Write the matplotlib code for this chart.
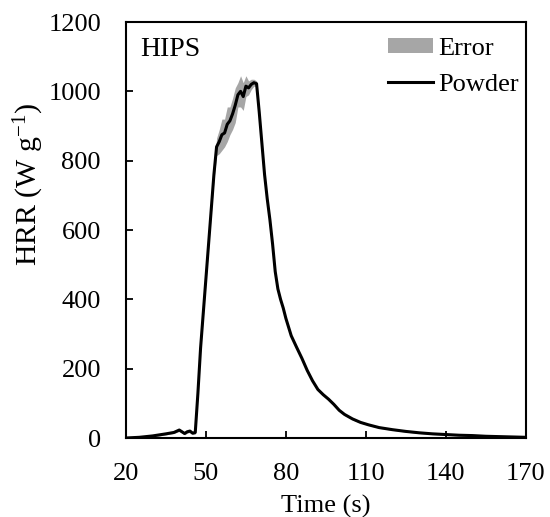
import matplotlib
matplotlib.use("Agg")
import matplotlib.pyplot as plt
import numpy as np
from matplotlib.patches import Patch
from matplotlib.lines import Line2D

plt.rcParams["font.family"] = ["Liberation Serif", "DejaVu Serif"]
plt.rcParams["mathtext.fontset"] = "custom"
plt.rcParams["mathtext.rm"] = "Liberation Serif"
plt.rcParams["mathtext.default"] = "regular"

# Heat release rate of HIPS powder (mean) and its error half-width
time_s = [20, 25, 30, 35, 38, 40, 41, 42, 43, 44, 45, 46, 47, 48, 49, 50, 51, 52, 53,
          54, 55, 56, 57, 58, 59, 60, 61, 62, 63, 64, 65, 66, 67, 68, 69, 70, 71, 72,
          73, 74, 75, 76, 77, 78, 79, 80, 82, 84, 86, 88, 90, 92, 94, 96, 98, 100,
          102, 105, 108, 111, 115, 120, 125, 130, 135, 140, 145, 150, 155, 160, 165, 170]
hrr_powder = [0, 2, 6, 12, 16, 23, 18, 13, 18, 20, 14, 16, 130, 260, 360, 460, 560, 660, 760,
              840, 855, 875, 880, 905, 915, 935, 960, 990, 1000, 985, 1015, 1010, 1020, 1025, 1022, 940, 850, 760,
              690, 630, 560, 480, 430, 400, 375, 345, 295, 262, 230, 195, 165, 140, 125, 112, 97, 80,
              68, 55, 45, 38, 30, 24, 19, 15, 12, 10, 8, 7, 5, 4, 3, 2]
hrr_error = [2, 2, 3, 3, 3, 4, 4, 4, 4, 4, 4, 5, 8, 10, 12, 12, 14, 15, 18,
             25, 35, 45, 40, 50, 40, 45, 50, 35, 45, 40, 30, 20, 15, 10, 8, 6, 6, 6,
             5, 5, 5, 5, 5, 5, 4, 4, 4, 4, 4, 4, 3, 3, 3, 3, 3, 3,
             3, 3, 2, 2, 2, 2, 2, 2, 2, 2, 2, 2, 2, 2, 2, 2]

x_ticks = [20, 50, 80, 110, 140, 170]
y_ticks = [0, 200, 400, 600, 800, 1000, 1200]

t = np.array(time_s)
y = np.array(hrr_powder)
e = np.array(hrr_error)

fig = plt.figure(figsize=(5.5, 5.17), dpi=100)
ax = fig.add_axes([0.229, 0.1528, 0.727, 0.8046])

ax.fill_between(t, y - e, y + e, color="#a6a6a6", linewidth=0, zorder=1)
ax.plot(t, y, color="black", linewidth=2.2, zorder=2)

ax.set_xlim(20, 170)
ax.set_ylim(0, 1200)
ax.set_xticks(x_ticks)
ax.set_yticks(y_ticks)
ax.tick_params(axis="both", direction="in", length=5, width=1.3, labelsize=19,
               top=False, right=False)
ax.tick_params(axis="x", pad=18)
ax.tick_params(axis="y", pad=18)
for sp in ax.spines.values():
    sp.set_linewidth(1.5)

ax.set_xlabel("Time (s)", fontsize=19, labelpad=7)
ax.set_ylabel(r"HRR (W g$^{-1}$)", fontsize=21.5, va="center")
ax.yaxis.set_label_coords(-0.2425, 0.61)

ax.text(0.035, 0.935, "HIPS", transform=ax.transAxes, fontsize=20,
        ha="left", va="center")

handles = [Patch(facecolor="#a6a6a6", edgecolor="none"),
           Line2D([0], [0], color="black", linewidth=2.2)]
ax.legend(handles, ["Error", "Powder"], loc="upper right", frameon=False,
          fontsize=19, handlelength=1.7, handleheight=0.5, handletextpad=0.2,
          labelspacing=0.53, borderaxespad=0.0, borderpad=0.25,
          bbox_to_anchor=(1.0, 0.978))

fig.savefig("out.png", dpi=100)
